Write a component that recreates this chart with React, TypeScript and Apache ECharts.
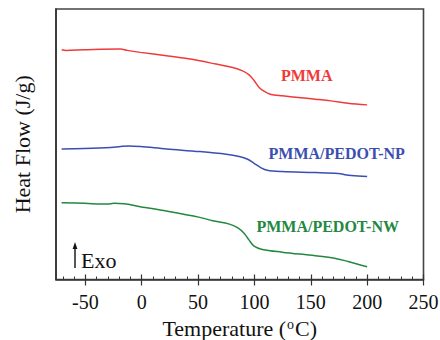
import React, { useEffect, useRef } from "react";
import * as echarts from "echarts";

const pmmaT = [-71, -67, -51, -18.7, -12.9, -1.2, 22, 37, 51.5, 66, 80.7, 89.5, 95.3, 99.7, 104, 108.5, 114, 124.6, 139, 154, 168, 183, 200];
const pmmaY = [229.3, 228.7, 229.3, 230, 228.7, 226.7, 223.3, 221, 218.3, 215, 211.7, 208.3, 204.3, 198.7, 192, 188, 185, 183.3, 181.7, 180, 178.3, 176, 174.3];

const npT = [-71, -51, -27.5, -18.7, -11.4, -1.2, 22, 51.5, 75, 86.5, 94, 99.7, 105.6, 111.4, 124.6, 154, 174, 186, 200];
const npY = [130.3, 130.7, 131.7, 132.7, 133.3, 132.7, 130.3, 127.7, 125, 122.7, 120, 116, 111.7, 109, 107.7, 106.7, 105.7, 103.7, 102.7];

const nwT = [-71, -51, -30.4, -24.6, -15.8, -1.2, 22, 51.5, 63, 77.8, 85, 91, 95.3, 99.7, 107, 124.6, 154, 171, 183, 200];
const nwY = [76.7, 76, 75.3, 76, 75.7, 72.7, 68.3, 62, 58.7, 55.3, 51.7, 46, 39.3, 33.3, 30, 27.3, 23.7, 21.3, 18, 12.7];

const majorTicks = [-50, 0, 50, 100, 150, 200, 250];
const minorTicks = [-70, -60, -50, -40, -30, -20, -10, 0, 10, 20, 30, 40, 50, 60, 70, 80, 90, 100, 110, 120, 130, 140, 150, 160, 170, 180, 190, 200, 210, 220, 230, 240, 250];

const seriesNames = ["PMMA", "PMMA/PEDOT-NP", "PMMA/PEDOT-NW"];
const colors = ["#f03a3a", "#3a4fb0", "#23883f"];

const X_MIN = -76;
const X_MAX = 250;
const SERIF = "'Liberation Serif', 'Times New Roman', serif";

function zip(xs: number[], ys: number[]) {
  return xs.map((x, i) => [x, ys[i]]);
}

export default function App() {
  const ref = useRef<HTMLDivElement>(null);
  useEffect(() => {
    if (!ref.current) return;
    const chart = echarts.init(ref.current, null, { renderer: "svg" });
    const axisLineStyle = { color: "#333", width: 1.6 };
    const baseX = {
      type: "value",
      min: X_MIN,
      max: X_MAX,
      position: "bottom",
      splitLine: { show: false },
    };
    chart.setOption({
      animation: false,
      backgroundColor: "#fff",
      grid: {
        left: 56,
        right: 16.5,
        top: 9,
        bottom: 60.5,
        containLabel: false,
        outerBoundsMode: "none",
        show: true,
        borderColor: "#444",
        borderWidth: 1.6,
      },
      xAxis: [
        {
          ...baseX,
          axisLine: { show: true, onZero: false, lineStyle: axisLineStyle },
          axisTick: { show: true, inside: false, length: 6, customValues: majorTicks, lineStyle: { color: "#333", width: 1.2 } },
          axisLabel: { show: true, customValues: majorTicks, margin: 12, fontFamily: SERIF, fontSize: 20, color: "#111" },
          name: "{a|Temperature (}{s|o}{a|C)}",
          nameLocation: "middle",
          nameGap: 37.5,
          nameTextStyle: {
            fontFamily: SERIF,
            fontSize: 22,
            color: "#111",
            rich: {
              a: { fontFamily: SERIF, fontSize: 22, lineHeight: 22, color: "#111", verticalAlign: "bottom" },
              s: { fontFamily: SERIF, fontSize: 14, lineHeight: 14, color: "#111", verticalAlign: "top", padding: [0, 1, 10, 1] },
            },
          },
        },
        {
          ...baseX,
          axisLine: { show: false, onZero: false },
          axisTick: { show: true, inside: true, length: 5, customValues: majorTicks, lineStyle: { color: "#333", width: 1.2 } },
          axisLabel: { show: false },
        },
        {
          ...baseX,
          axisLine: { show: false, onZero: false },
          axisTick: { show: true, inside: true, length: 3, customValues: minorTicks, lineStyle: { color: "#333", width: 1 } },
          axisLabel: { show: false },
        },
      ],
      yAxis: {
        type: "value",
        min: 0,
        max: 270,
        splitLine: { show: false },
        axisTick: { show: false },
        axisLabel: { show: false },
        axisLine: { show: true, onZero: false, lineStyle: axisLineStyle },
        name: "Heat Flow (J/g)",
        nameLocation: "middle",
        nameRotate: 90,
        nameGap: 23,
        nameTextStyle: { fontFamily: SERIF, fontSize: 22, color: "#111" },
      },
      series: [
        { name: seriesNames[0], type: "line", data: zip(pmmaT, pmmaY) },
        { name: seriesNames[1], type: "line", data: zip(npT, npY) },
        { name: seriesNames[2], type: "line", data: zip(nwT, nwY) },
      ].map((s, i) => ({
        ...s,
        xAxisIndex: 0,
        smooth: 0.35,
        showSymbol: false,
        lineStyle: { color: colors[i], width: 1.5 },
      })),
      graphic: [
        { type: "text", x: 306.7, y: 75.3, style: { text: seriesNames[0], fill: colors[0], font: `bold 16px ${SERIF}`, align: "center", verticalAlign: "middle" } },
        { type: "text", x: 336.7, y: 153.3, style: { text: seriesNames[1], fill: colors[1], font: `bold 16px ${SERIF}`, align: "center", verticalAlign: "middle" } },
        { type: "text", x: 327.7, y: 226.7, style: { text: seriesNames[2], fill: colors[2], font: `bold 16px ${SERIF}`, align: "center", verticalAlign: "middle" } },
        { type: "line", shape: { x1: 75, y1: 268, x2: 75, y2: 247 }, style: { stroke: "#111", lineWidth: 1.4 } },
        { type: "polygon", shape: { points: [[75, 242], [72.6, 249], [77.4, 249]] }, style: { fill: "#111" } },
        { type: "text", x: 81, y: 260, style: { text: "Exo", fill: "#111", font: `22px ${SERIF}`, align: "left", verticalAlign: "middle" } },
      ],
    });
    return () => chart.dispose();
  }, []);
  return <div ref={ref} style={{ position: "fixed", left: 0, top: 0, width: 440, height: 340 }} />;
}
